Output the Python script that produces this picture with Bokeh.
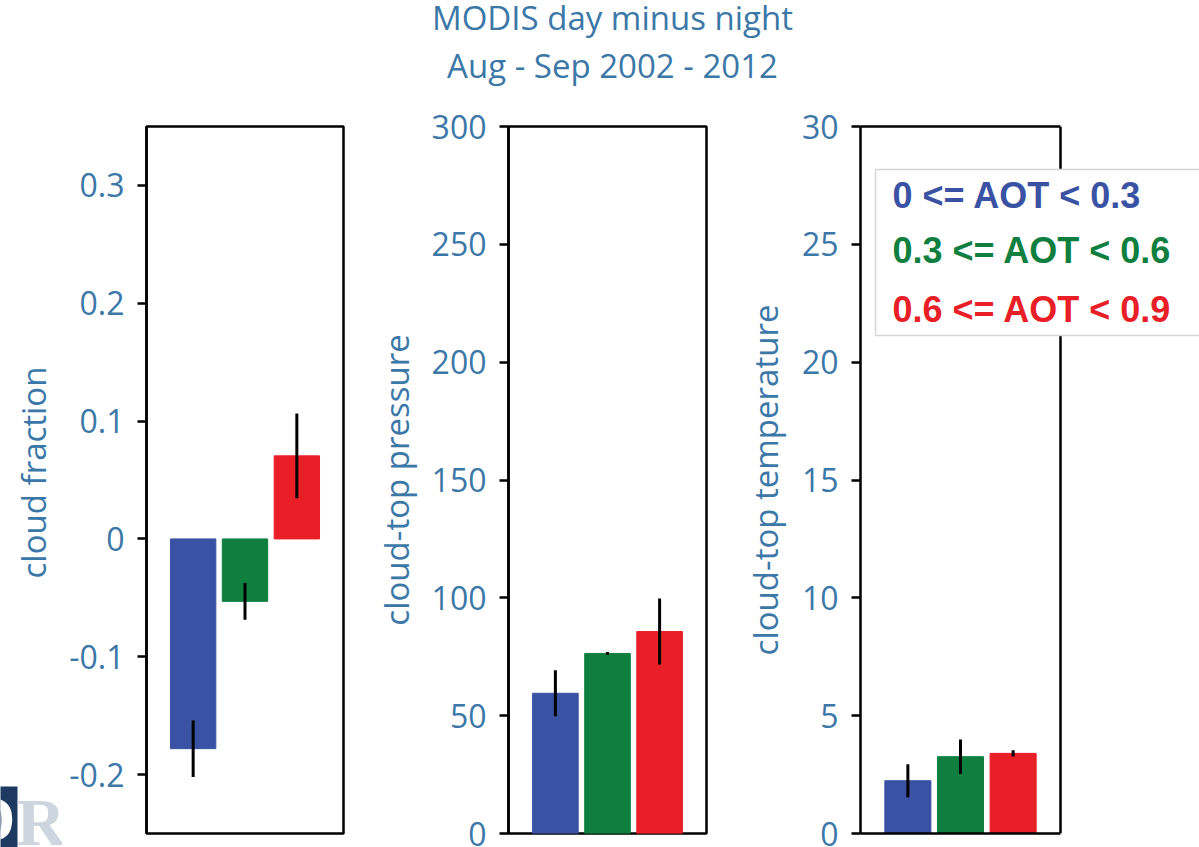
import math
from bokeh.plotting import figure
from bokeh.layouts import column, row
from bokeh.models import (Range1d, FixedTicker, Label, BoxAnnotation, Span,
                          LinearAxis, ColumnDataSource)
from bokeh.embed import file_html
from bokeh.resources import INLINE

# ---- data -------------------------------------------------------------
title_lines = ["MODIS day minus night", "Aug - Sep 2002 - 2012"]
aot_bins = ["0 <= AOT < 0.3", "0.3 <= AOT < 0.6", "0.6 <= AOT < 0.9"]
bin_colors = ["#3a52a3", "#0e7f3f", "#e81f27"]

cloud_fraction = [-0.178, -0.053, 0.0705]
cloud_fraction_err = [0.024, 0.0155, 0.036]
cloud_top_pressure = [59.5, 76.4, 85.7]
cloud_top_pressure_err = [9.8, 0.6, 14.0]
cloud_top_temperature = [2.24, 3.26, 3.40]
cloud_top_temperature_err = [0.70, 0.73, 0.13]

cf_ticks = [-0.2, -0.1, 0, 0.1, 0.2, 0.3]
cf_tick_labels = ["-0.2", "-0.1", "0", "0.1", "0.2", "0.3"]
ctp_ticks = [0, 50, 100, 150, 200, 250, 300]
ctt_ticks = [0, 5, 10, 15, 20, 25, 30]

# ---- styling ----------------------------------------------------------
TEXT_BLUE = "#3b78a8"
FONT = "Open Sans"
ROW_H = 747
TITLE_H = 100
BASE_SHIFT = 13  # raise alphabetic-baseline labels onto their baseline
X_LO, X_HI = -0.9, 2.9


def style_axis(ax, ticks, tick_labels=None):
    ax.ticker = FixedTicker(ticks=ticks)
    if tick_labels is not None:
        ax.major_label_overrides = {t: s for t, s in zip(ticks, tick_labels)}
    ax.major_tick_out = 9
    ax.major_tick_in = 0
    ax.minor_tick_out = 0
    ax.minor_tick_in = 0
    ax.axis_line_width = 2.5
    ax.major_tick_line_width = 2.5
    ax.major_label_standoff = 13
    ax.major_label_text_font = FONT
    ax.major_label_text_font_size = "32px"
    ax.major_label_text_color = TEXT_BLUE
    ax.axis_label_text_font = FONT
    ax.axis_label_text_font_size = "33px"
    ax.axis_label_text_font_style = "normal"
    ax.axis_label_text_color = TEXT_BLUE


def frame_edge_axis(ax):
    # a bare axis line used as one edge of a panel box
    ax.ticker = FixedTicker(ticks=[])
    ax.bounds = (X_LO, X_HI)
    ax.axis_line_width = 2.5
    ax.major_tick_out = 0
    ax.major_tick_in = 0
    ax.minor_tick_out = 0
    ax.minor_tick_in = 0
    ax.major_label_text_font_size = "0px"


def add_bars(p, values, errors):
    xs = list(range(len(values)))
    src = ColumnDataSource(dict(
        x=xs, top=values, color=bin_colors,
        lo=[v - e for v, e in zip(values, errors)],
        hi=[v + e for v, e in zip(values, errors)],
    ))
    p.vbar(x="x", top="top", bottom=0, width=0.875, color="color", source=src)
    p.segment(x0="x", y0="lo", x1="x", y1="hi", line_color="black",
              line_width=3, source=src)


def base_fig(width, x_range, y_range, left, right, x_axis=None):
    p = figure(width=width, height=ROW_H, output_backend="svg",
               toolbar_location=None, x_axis_location=x_axis,
               x_range=x_range, y_range=y_range,
               min_border_left=left, min_border_right=right,
               min_border_top=26, min_border_bottom=14)
    p.grid.visible = False
    p.background_fill_color = "white"
    p.border_fill_color = "white"
    return p


# ---- left strip: axis title of the first panel and the corner logo ------
strip = figure(width=62, height=ROW_H, output_backend="svg",
               toolbar_location=None, x_axis_location=None,
               y_axis_location=None, x_range=Range1d(0, 62),
               y_range=Range1d(0, ROW_H), min_border=0)
if "frame_align" in strip.properties():
    strip.frame_align = False   # keep this strip's frame on its whole canvas
strip.grid.visible = False
strip.outline_line_color = None
strip.add_layout(Label(x=33, y=375, text="cloud fraction", angle=math.pi / 2,
                       text_align="center", text_baseline="middle",
                       text_color=TEXT_BLUE, text_font=FONT,
                       text_font_size="33px"))
strip.add_layout(BoxAnnotation(left=-5, right=17, bottom=-5, top=61,
                               fill_color="#1e3a60", fill_alpha=1.0,
                               line_color=None))
strip.add_layout(Label(x=15, y=29, text="D", text_align="right",
                       text_baseline="middle", text_color="white",
                       text_font="Liberation Sans Narrow",
                       text_font_style="bold", text_font_size="66px"))
strip.add_layout(Label(x=16, y=26, text="RI", text_baseline="middle",
                       text_color="#cdd5df",
                       text_font="Liberation Sans Narrow",
                       text_font_style="bold", text_font_size="68px"))

# ---- panel 1: cloud fraction ---------------------------------------------
p1 = base_fig(308, Range1d(X_LO, X_HI), Range1d(-0.25, 0.35), 84, 27)
p1.outline_line_color = "black"
p1.outline_line_width = 2.5
style_axis(p1.yaxis[0], cf_ticks, cf_tick_labels)
add_bars(p1, cloud_fraction, cloud_fraction_err)

# ---- panel 2: cloud-top pressure -----------------------------------------
p2 = base_fig(368, Range1d(X_LO, X_HI), Range1d(0, 300), 136, 32)
p2.outline_line_color = "black"
p2.outline_line_width = 2.5
style_axis(p2.yaxis[0], ctp_ticks)
p2.yaxis[0].axis_label = "cloud-top pressure"
p2.yaxis[0].axis_label_standoff = 10
add_bars(p2, cloud_top_pressure, cloud_top_pressure_err)

# ---- panel 3: cloud-top temperature, frame widened for the legend box ----
PX_PER_X = 200 / (X_HI - X_LO)
PX_PER_Y = 707 / 30.0
p3 = base_fig(461, Range1d(X_LO, X_LO + 339 / PX_PER_X), Range1d(0, 30),
              122, 0, x_axis="below")
p3.outline_line_color = None
style_axis(p3.yaxis[0], ctt_ticks)
p3.yaxis[0].axis_label = "cloud-top temperature"
p3.yaxis[0].axis_label_standoff = 11
frame_edge_axis(p3.xaxis[0])
top_edge = LinearAxis()
frame_edge_axis(top_edge)
p3.add_layout(top_edge, "above")
add_bars(p3, cloud_top_temperature, cloud_top_temperature_err)
p3.add_layout(Span(location=X_HI, dimension="height", line_color="black",
                   line_width=2.5))

# legend: coloured text on a white box over the right edge of panel 3
p3.add_layout(BoxAnnotation(left=-0.615, right=8.0, bottom=21.13, top=28.18,
                            fill_color="white", fill_alpha=1.0,
                            line_color="#d6d6d6", line_alpha=1.0,
                            line_width=1.5))
legend_y = [26.52, 24.19, 21.68]
for txt, col, yy in zip(aot_bins, bin_colors, legend_y):
    p3.add_layout(Label(x=-0.292, y=yy + BASE_SHIFT / PX_PER_Y, text=txt,
                        text_color=col, text_font="Liberation Sans",
                        text_font_style="bold", text_font_size="36px",
                        text_baseline="alphabetic"))

# ---- title block ---------------------------------------------------------
t = figure(width=1199, height=TITLE_H, output_backend="svg",
           toolbar_location=None, x_axis_location=None, y_axis_location=None,
           x_range=Range1d(0, 1199), y_range=Range1d(0, TITLE_H),
           min_border=0)
t.grid.visible = False
t.outline_line_color = None
for txt, yy in zip(title_lines, [70, 22]):
    t.add_layout(Label(x=612, y=yy + BASE_SHIFT, text=txt, text_align="center",
                       text_baseline="alphabetic", text_color=TEXT_BLUE,
                       text_font=FONT, text_font_size="33px"))

layout = column(t, row(strip, p1, p2, p3, spacing=0), spacing=0)

open("out.html", "w").write(file_html(layout, INLINE))
